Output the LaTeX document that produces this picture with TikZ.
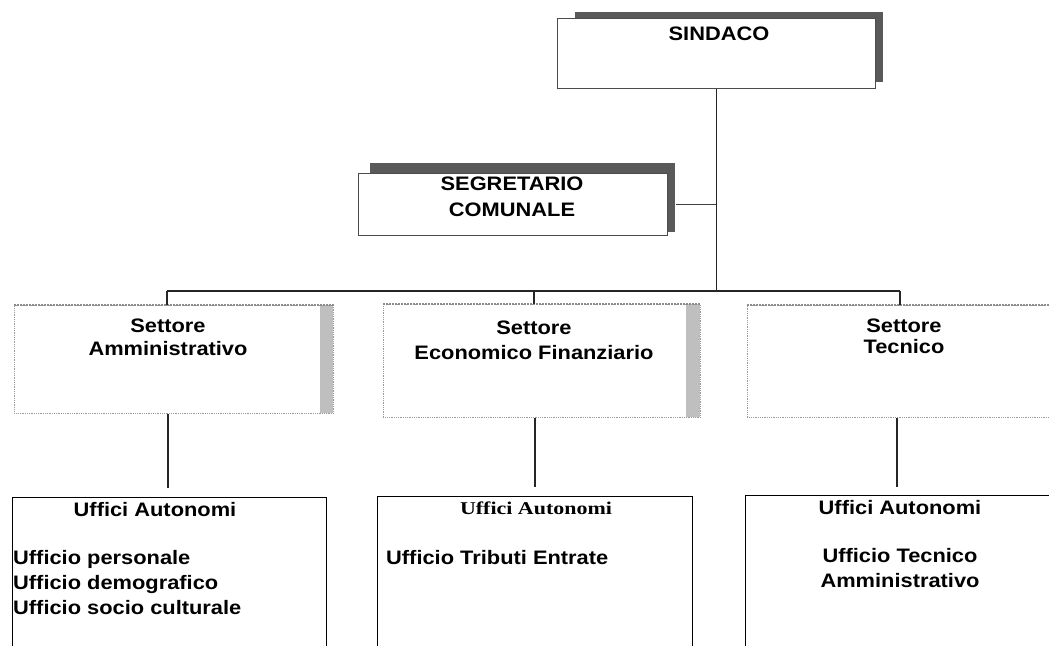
\documentclass[tikz,border=0pt]{standalone}
\usepackage{fontspec}
\setmainfont{Liberation Sans}[FakeStretch=1.12]
\newfontfamily\serifx{Liberation Serif}[FakeStretch=1.22]
\usetikzlibrary{calc}
\begin{document}
\begin{tikzpicture}[x=1pt,y=-1pt,
  lbl/.style={font=\fontsize{19.5}{23}\selectfont\bfseries, inner sep=0pt, anchor=base},
  lblw/.style={lbl, anchor=base west},
  topbox/.style={draw=black!70, line width=0.8pt, fill=white, inner sep=0pt, anchor=north west},
  setbox/.style={draw=black!40, densely dotted, line width=0.8pt, inner sep=0pt, anchor=north west},
  uffbox/.style={draw=black, line width=1.3pt, inner sep=0pt, anchor=north west},
  conn/.style={draw=black!85, line width=1.8pt},
  thinconn/.style={draw=black!75, line width=1pt},
  shadowc/.style={fill=black!65},
  bandc/.style={fill=black!25}
]
\clip (0,0) rectangle (1049,645);
\fill[white] (0,0) rectangle (1049,645);

% SINDACO
\fill[shadowc] (575,12) rectangle (883,82);
\node[topbox, minimum width=318, minimum height=70] (sind) at (557,18) {};
\node[lbl] (sindt) at (719,40) {SINDACO};

% SEGRETARIO
\fill[shadowc] (370,163) rectangle (675,232);
\node[topbox, minimum width=309, minimum height=62] (segr) at (358,173) {};
\node[lbl] (segt1) at (512,190) {SEGRETARIO};
\node[lbl] (segt2) at (512,216) {COMUNALE};

% Settore boxes
\fill[bandc] (320,305) rectangle (333,413);
\node[setbox, minimum width=319, minimum height=108] (sa) at (14,305) {};
\draw[black!45, densely dotted, line width=2pt] (sa.north west) -- (sa.north east);
\node[lbl] (sat1) at (168,332) {Settore};
\node[lbl] (sat2) at (168,355) {Amministrativo};

\fill[bandc] (686,304) rectangle (700,417);
\node[setbox, minimum width=317, minimum height=113] (se) at (383,304) {};
\draw[black!45, densely dotted, line width=2pt] (se.north west) -- (se.north east);
\node[lbl] (set1) at (534,334) {Settore};
\node[lbl] (set2) at (534,359) {Economico Finanziario};

\node[setbox, minimum width=320, minimum height=112] (st) at (747,305) {};
\draw[black!45, densely dotted, line width=2pt] (st.north west) -- (st.north east);
\node[lbl] (stt1) at (904,332) {Settore};
\node[lbl] (stt2) at (904,353) {Tecnico};

% Uffici boxes
\node[uffbox, minimum width=314, minimum height=200] (ua) at (12,497) {};
\node[lbl] (uat0) at (155,516) {Uffici Autonomi};
\node[lblw] (uat1) at (13,564) {Ufficio personale};
\node[lblw] (uat2) at (13,589) {Ufficio demografico};
\node[lblw] (uat3) at (13,614) {Ufficio socio culturale};

\node[uffbox, minimum width=315, minimum height=200] (ue) at (377,496) {};
\node[lbl, font=\fontsize{18}{21}\selectfont\serifx\bfseries] (uet0) at (536,514) {Uffici Autonomi};
\node[lblw] (uet1) at (386,564) {Ufficio Tributi Entrate};

\node[uffbox, minimum width=320, minimum height=200] (ut) at (745,495) {};
\node[lbl] (utt0) at (900,514) {Uffici Autonomi};
\node[lbl] (utt1) at (900,562) {Ufficio Tecnico};
\node[lbl] (utt2) at (900,587) {Amministrativo};

% Connectors
\coordinate (busL) at (167,291);
\coordinate (busM) at (534,291);
\coordinate (busR) at (900,291);
\draw[conn] (sind.south) -- (sind.south |- busL);
\draw[thinconn] ($(segr.east)+(8,0)$) -- (segr.east -| sind.south);
\draw[conn] (busL) -- (busR);
\draw[conn] (busL) -- (busL |- sa.north);
\draw[conn] (busM) -- (busM |- se.north);
\draw[conn] (busR) -- (busR |- st.north);

\coordinate (uaTop) at (168,488);
\coordinate (ueTop) at (535,487);
\coordinate (utTop) at (897,487);
\draw[conn] (sa.south -| uaTop) -- (uaTop);
\draw[conn] (se.south -| ueTop) -- (ueTop);
\draw[conn] (st.south -| utTop) -- (utTop);
\end{tikzpicture}
\end{document}
